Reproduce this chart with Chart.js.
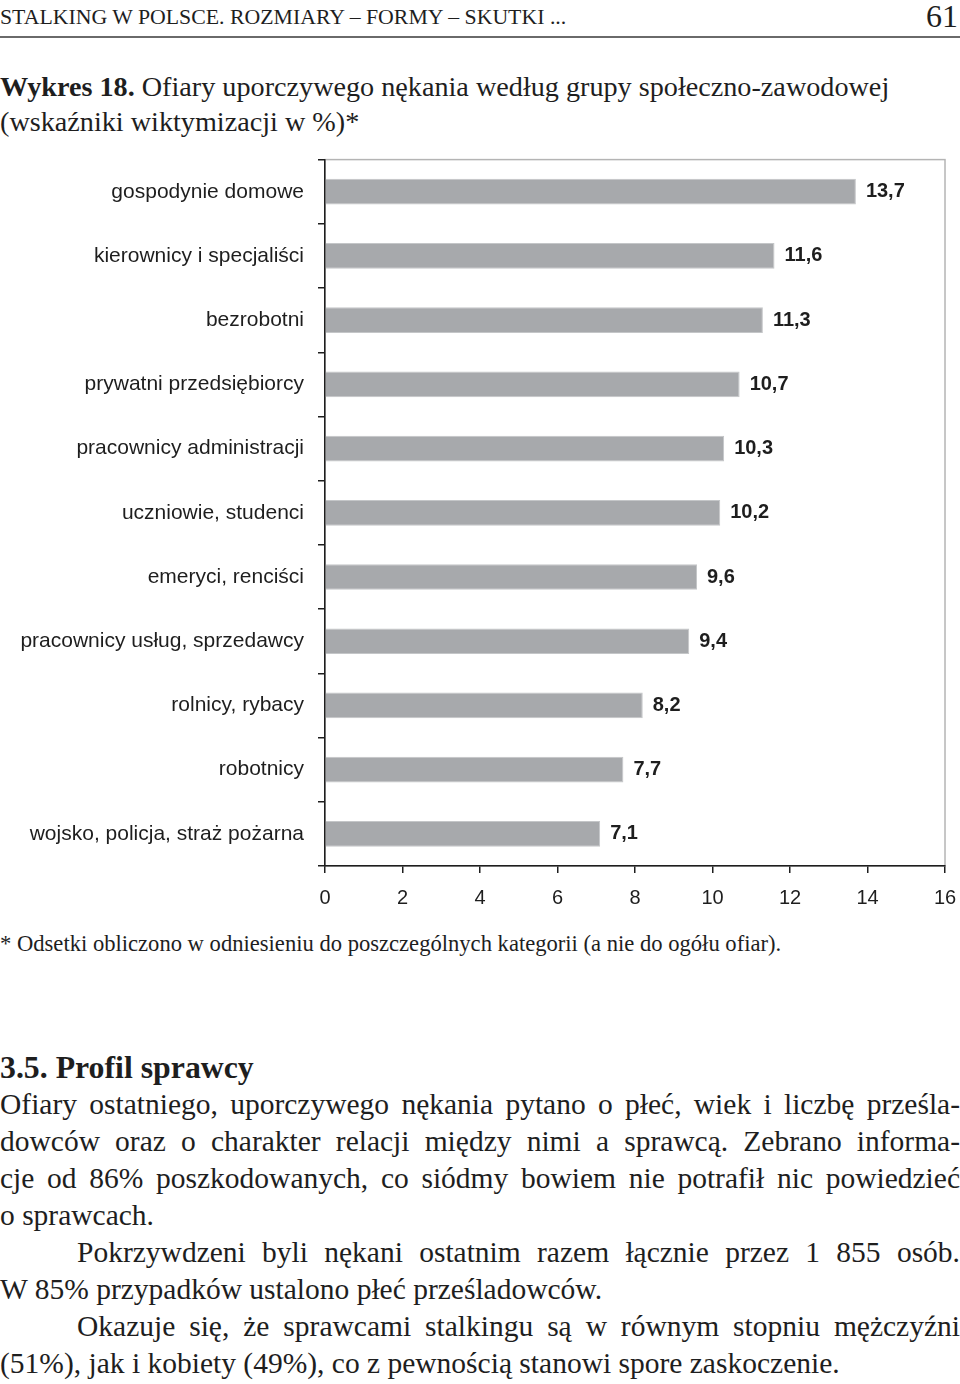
<!DOCTYPE html>
<html lang="pl">
<head>
<meta charset="utf-8">
<title>Wykres 18</title>
<script src="https://cdn.jsdelivr.net/npm/chart.js@4.4.1/dist/chart.umd.min.js"></script>
<style>
  html, body { margin: 0; padding: 0; background: #fff; }
  body { width: 960px; height: 1384px; position: relative; overflow: hidden;
         font-family: "Liberation Serif", "DejaVu Serif", serif; color: #1e1e1e; }
  .ln { position: absolute; left: 0; width: 960px; white-space: nowrap; }
  .just { text-align: justify; text-align-last: justify; white-space: normal; }
  .ind { text-indent: 77px; }
  .body { font-size: 29.5px; line-height: 37px; }
  #rule { position: absolute; left: 0; top: 36px; width: 960px; height: 2px; background: #6a6a6a; }
  #chart-box { position: absolute; left: 0; top: 133px; width: 960px; height: 787px; }
</style>
</head>
<body>

<div class="ln" style="top:2px; font-size:21.8px; line-height:30px;">STALKING W POLSCE. ROZMIARY – FORMY – SKUTKI ...</div>
<div class="ln" style="top:-2px; left:auto; right:2px; width:auto; font-size:32px; line-height:36px;">61</div>
<div id="rule"></div>

<div class="ln" style="top:69px; font-size:28.2px; line-height:35px;"><b>Wykres 18.</b> Ofiary uporczywego nękania według grupy społeczno-zawodowej</div>
<div class="ln" style="top:104px; font-size:28.2px; line-height:35px;">(wskaźniki wiktymizacji w %)*</div>

<div id="chart-box"><canvas id="victims-graph"></canvas></div>

<div class="ln" style="top:929px; font-size:22.6px; line-height:30px;">* Odsetki obliczono w odniesieniu do poszczególnych kategorii (a nie do ogółu ofiar).</div>

<div class="ln" style="top:1049px; font-size:31.8px; line-height:37px;"><b>3.5. Profil sprawcy</b></div>
<div class="ln body just" style="top:1086px;">Ofiary ostatniego, uporczywego nękania pytano o płeć, wiek i liczbę prześla-</div>
<div class="ln body just" style="top:1123px;">dowców oraz o charakter relacji między nimi a sprawcą. Zebrano informa-</div>
<div class="ln body just" style="top:1160px;">cje od 86% poszkodowanych, co siódmy bowiem nie potrafił nic powiedzieć</div>
<div class="ln body" style="top:1197px;">o sprawcach.</div>
<div class="ln body just ind" style="top:1234px;">Pokrzywdzeni byli nękani ostatnim razem łącznie przez 1 855 osób.</div>
<div class="ln body" style="top:1271px;">W 85% przypadków ustalono płeć prześladowców.</div>
<div class="ln body just ind" style="top:1308px;">Okazuje się, że sprawcami stalkingu są w równym stopniu mężczyźni</div>
<div class="ln body" style="top:1345px;">(51%), jak i kobiety (49%), co z pewnością stanowi spore zaskoczenie.</div>

<script>
const categories = [
    'gospodynie domowe',
    'kierownicy i specjaliści',
    'bezrobotni',
    'prywatni przedsiębiorcy',
    'pracownicy administracji',
    'uczniowie, studenci',
    'emeryci, renciści',
    'pracownicy usług, sprzedawcy',
    'rolnicy, rybacy',
    'robotnicy',
    'wojsko, policja, straż pożarna'
];
const rates = [13.7, 11.6, 11.3, 10.7, 10.3, 10.2, 9.6, 9.4, 8.2, 7.7, 7.1];
const xTicks = [0, 2, 4, 6, 8, 10, 12, 14, 16];

const sansFont = '"Liberation Sans", Arial, sans-serif';

// light grey frame round the plot area, axes are drawn black on top of it
const frame = {
    id: 'frame',
    beforeDraw(chart) {
        const { ctx, chartArea: a } = chart;
        ctx.save();
        ctx.strokeStyle = '#b4b4b4';
        ctx.lineWidth = 1.5;
        ctx.strokeRect(a.left, a.top, a.right - a.left, a.bottom - a.top);
        ctx.restore();
    }
};

// value written after each bar, with a decimal comma
const valueLabels = {
    id: 'valueLabels',
    afterDatasetsDraw(chart) {
        const { ctx } = chart;
        const meta = chart.getDatasetMeta(0);
        ctx.save();
        ctx.font = 'bold 20px ' + sansFont;
        ctx.fillStyle = '#1e1e1e';
        ctx.textBaseline = 'middle';
        meta.data.forEach((bar, i) => {
            ctx.fillText(rates[i].toFixed(1).replace('.', ','), bar.x + 10, bar.y);
        });
        ctx.restore();
    }
};

function gen_chart(canvas) {
    const ctx = document.getElementById(canvas);
    return new Chart(ctx, {
        type: 'bar',
        data: {
            labels: categories,
            datasets: [{
                data: rates,
                backgroundColor: '#a7a9ac',
                borderColor: '#c4c6c8',
                borderWidth: 1,
                categoryPercentage: 1,
                barPercentage: 0.4
            }]
        },
        options: {
            indexAxis: 'y',
            responsive: true,
            maintainAspectRatio: false,
            animation: false,
            layout: { padding: { top: 10, right: 15, left: 0, bottom: 0 } },
            plugins: {
                legend: { display: false },
                tooltip: { enabled: false }
            },
            scales: {
                x: {
                    min: 0,
                    max: 16,
                    afterBuildTicks: (scale) => { scale.ticks = xTicks.map(v => ({ value: v })); },
                    afterFit: (scale) => {
                        scale.height = 54;
                        scale.paddingRight = 0;
                        scale.paddingLeft = 0;
                    },
                    grid: { drawOnChartArea: false, tickLength: 7, color: '#1e1e1e', lineWidth: 1.5 },
                    border: { color: '#1e1e1e', width: 1.5 },
                    ticks: {
                        padding: 13,
                        maxRotation: 0,
                        color: '#1e1e1e',
                        font: { family: sansFont, size: 20 }
                    }
                },
                y: {
                    afterFit: (scale) => { scale.width = 325; },
                    grid: { offset: true, drawOnChartArea: false, tickLength: 7, color: '#1e1e1e', lineWidth: 1.5 },
                    border: { color: '#1e1e1e', width: 1.5 },
                    ticks: {
                        padding: 14,
                        color: '#1e1e1e',
                        font: { family: sansFont, size: 21 }
                    }
                }
            }
        },
        plugins: [frame, valueLabels]
    });
}

document.addEventListener('DOMContentLoaded', () => {
    gen_chart('victims-graph');
});
</script>
</body>
</html>
